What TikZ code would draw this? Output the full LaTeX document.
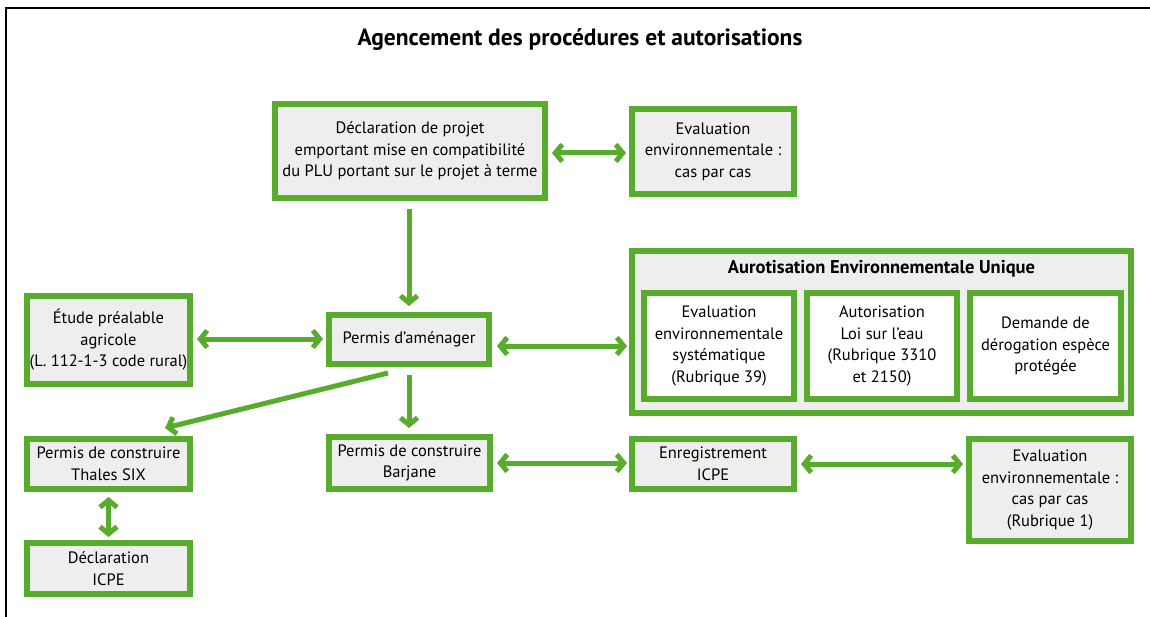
\documentclass[tikz,border=0pt]{standalone}
\usepackage{fontspec}
\setmainfont{PT Sans}
\usetikzlibrary{arrows.meta}
\definecolor{grn}{HTML}{58AC2B}
\definecolor{boxgray}{HTML}{EEEEEE}
\begin{document}
\begin{tikzpicture}[x=1pt,y=-1pt,
  box/.style={draw=grn, line width=6pt, fill=boxgray, align=center, inner sep=0pt,
    font=\fontsize{16.5}{21.5}\selectfont},
  wbox/.style={box, fill=white},
  tip/.tip={Straight Barb[length=7pt,width=17pt]},
  arr/.style={draw=grn, line width=5pt, -tip},
  darr/.style={draw=grn, line width=5pt, tip-tip},
]
\useasboundingbox (0,0) rectangle (1150,617);
\draw[line width=2pt] (6,617) -- (6,8) -- (1150,8);

\node[font=\fontsize{23.5}{28}\selectfont\bfseries] (title) at (580,40) {Agencement des procédures et autorisations};

\node[box, minimum width=270pt, minimum height=94pt] (decl) at (410,151)
  {Déclaration de projet\\emportant mise en compatibilité\\du PLU portant sur le projet à terme};
\node[box, minimum width=162pt, minimum height=85pt] (evalcc) at (713,151.5)
  {Evaluation\\environnementale :\\cas par cas};

\node[box, minimum width=160pt, minimum height=49pt] (permis) at (409,339.5) {Permis d’aménager};

\node[box, minimum width=499pt, minimum height=162pt] (aeu) at (881.5,332) {};
\node[font=\fontsize{18.5}{22}\selectfont\bfseries] (aeutitle) at (881.5,269) {Aurotisation Environnementale Unique};
\node[wbox, minimum width=150pt, minimum height=106pt] (sub1) at (719,346)
  {Evaluation\\environnementale\\systématique\\(Rubrique 39)};
\node[wbox, minimum width=150pt, minimum height=106pt] (sub2) at (882,346)
  {Autorisation\\Loi sur l’eau\\(Rubrique 3310\\et 2150)};
\node[wbox, minimum width=151pt, minimum height=106pt] (sub3) at (1045.5,346)
  {Demande de\\dérogation espèce\\protégée};

\node[box, minimum width=163pt, minimum height=88pt] (etude) at (108.5,340)
  {Étude préalable\\agricole\\(L. 112-1-3 code rural)};
\node[box, minimum width=163pt, minimum height=50pt] (thales) at (108.5,464)
  {Permis de construire\\Thales SIX};
\node[box, minimum width=163pt, minimum height=51pt] (declicpe) at (108.5,568.5)
  {Déclaration\\ICPE};
\node[box, minimum width=161pt, minimum height=52pt] (barjane) at (409.5,463)
  {Permis de construire\\Barjane};
\node[box, minimum width=162pt, minimum height=50pt] (enreg) at (713,464)
  {Enregistrement\\ICPE};
\node[box, minimum width=162pt, minimum height=102pt] (evalr1) at (1050,490)
  {Evaluation\\environnementale :\\cas par cas\\(Rubrique 1)};

\draw[darr, shorten <=4pt, shorten >=3pt] (decl.east |- 0,153) -- (evalcc.west |- 0,153);
\draw[arr, shorten <=8pt, shorten >=6pt] (decl.south -| 409,0) -- (permis.north -| 409,0);
\draw[darr, shorten <=4pt, shorten >=3pt] (etude.east |- 0,339) -- (permis.west |- 0,339);
\draw[darr, shorten <=5pt, shorten >=2pt] (permis.east |- 0,346) -- (aeu.west |- 0,346);
\coordinate (dstart) at (388,373);
\coordinate (dend) at (165,428);
\draw[arr] (dstart) -- (dend);
\draw[arr, shorten <=8pt, shorten >=6pt] (permis.south -| 409,0) -- (barjane.north -| 409,0);
\draw[darr, shorten <=5pt, shorten >=3pt] (thales.south) -- (declicpe.north);
\draw[darr, shorten <=4pt, shorten >=2pt] (barjane.east |- 0,463) -- (enreg.west |- 0,463);
\draw[darr, shorten <=4pt, shorten >=3pt] (enreg.east |- 0,464) -- (evalr1.west |- 0,464);
\end{tikzpicture}
\end{document}
